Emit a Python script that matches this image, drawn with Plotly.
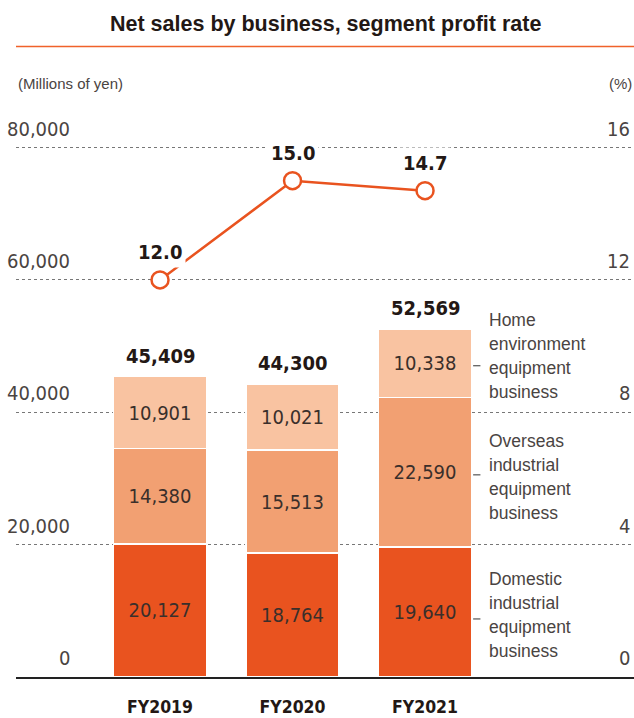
import plotly.graph_objects as go

# ---------------- data ----------------
years = ["FY2019", "FY2020", "FY2021"]
domestic = [20127, 18764, 19640]
overseas = [14380, 15513, 22590]
home = [10901, 10021, 10338]
totals = [45409, 44300, 52569]
profit_rate = [12.0, 15.0, 14.7]
left_ticks = [0, 20000, 40000, 60000, 80000]
left_tick_labels = ["0", "20,000", "40,000", "60,000", "80,000"]
right_ticks = [0, 4, 8, 12, 16]
right_tick_labels = ["0", "4", "8", "12", "16"]
segment_names = [["Home", "environment", "equipment", "business"],
                 ["Overseas", "industrial", "equipment", "business"],
                 ["Domestic", "industrial", "equipment", "business"]]

# ---------------- styles ----------------
C_DOM = "#E9531F"
C_OVS = "#F2A072"
C_HOME = "#F9C3A1"
C_LINE = "#E9531F"
DARK = "#231815"
GRAY = "#4a4442"
NARROW = "DejaVu Sans Condensed, Liberation Sans Narrow, sans-serif"
REG = "Liberation Sans, Arial, sans-serif"

W, H = 634, 718
Y_TOP = 81000          # a little headroom so the 80,000 gridline is drawn
Y2_TOP = 16.2
L, R, B = 16, 0, 41
T = 148 - 529 / 80000 * (Y_TOP - 80000)
PW = W - L - R
PH = H - T - B


def px_x(px):
    return (px - L) / PW


def px_y(px):
    return (H - B - px) / PH


fig = go.Figure()

for vals, col, name in [(domestic, C_DOM, "Domestic"), (overseas, C_OVS, "Overseas"), (home, C_HOME, "Home")]:
    fig.add_trace(go.Bar(
        x=years, y=vals, name=name, marker=dict(color=col, line=dict(color="white", width=1.5)),
        width=0.70, text=[f"{v:,}" for v in vals], textposition="inside",
        insidetextanchor="middle", textangle=0,
        textfont=dict(family=NARROW, size=20, color="#3a2f2b"),
        hoverinfo="skip", showlegend=False,
    ))

fig.add_trace(go.Scatter(
    x=years, y=profit_rate, yaxis="y2", mode="lines+markers",
    line=dict(color=C_LINE, width=2.5),
    marker=dict(symbol="circle", size=17, color="white", line=dict(color=C_LINE, width=2.5)),
    showlegend=False, hoverinfo="skip", cliponaxis=False,
))

ann = []
# totals above bars
for yr, t in zip(years, totals):
    ann.append(dict(x=yr, y=t, xref="x", yref="y", text=f"<b>{t:,}</b>", showarrow=False,
                    yanchor="bottom", yshift=7, font=dict(family=NARROW, size=20, color=DARK)))
# profit rate labels
for yr, r in zip(years, profit_rate):
    ann.append(dict(x=yr, y=r, xref="x", yref="y2", text=f"<b>{r:.1f}</b>", showarrow=False,
                    yanchor="bottom", yshift=12, bgcolor="white", borderpad=3,
                    font=dict(family=NARROW, size=20, color=DARK)))
# left tick labels
for v, lab in zip(left_ticks, left_tick_labels):
    ann.append(dict(x=px_x(72), y=v, xref="paper", yref="y", text=lab, showarrow=False,
                    xanchor="right", yanchor="bottom", yshift=5,
                    font=dict(family=NARROW, size=20, color=GRAY)))
# right tick labels
for v, lab in zip(right_ticks, right_tick_labels):
    ann.append(dict(x=px_x(632), y=v, xref="paper", yref="y2", text=lab, showarrow=False,
                    xanchor="right", yanchor="bottom", yshift=5,
                    font=dict(family=NARROW, size=20, color=GRAY)))
# unit labels
ann.append(dict(x=0, y=px_y(84), xref="paper", yref="paper", text="(Millions of yen)", showarrow=False,
                xanchor="left", yanchor="middle", font=dict(family=REG, size=15, color=GRAY)))
ann.append(dict(x=1, y=px_y(84), xref="paper", yref="paper", text="(%)", showarrow=False,
                xanchor="right", yanchor="middle", font=dict(family=REG, size=15, color=GRAY)))
# title
ann.append(dict(x=px_x(325), y=px_y(24), xref="paper", yref="paper",
                text="<b>Net sales by business, segment profit rate</b>", showarrow=False,
                xanchor="center", yanchor="middle", font=dict(family=REG, size=21.5, color=DARK)))
# segment legends (one annotation per line for 24px line spacing)
legend_y = [48545, 30170, 9376]
for lines, ly in zip(segment_names, legend_y):
    n = len(lines)
    for i, line in enumerate(lines):
        ann.append(dict(x=2.47, y=ly, xref="x", yref="y", text=line, showarrow=False, align="left",
                        xanchor="left", yanchor="middle", yshift=(n - 1) / 2 * 24 - i * 24,
                        font=dict(family=REG, size=17.5, color=GRAY)))

shapes = [
    dict(type="line", xref="paper", yref="paper", x0=0, x1=1, y0=px_y(47), y1=px_y(47),
         line=dict(color="#F0622A", width=1.5)),
]
dash_y = [47032, 30548, 8771]
for dy in dash_y:
    shapes.append(dict(type="line", xref="x", yref="y", x0=2.363, x1=2.418, y0=dy, y1=dy,
                       line=dict(color="#333333", width=1)))

fig.update_layout(
    width=W, height=H, margin=dict(l=L, r=R, t=T, b=B),
    paper_bgcolor="white", plot_bgcolor="white",
    barmode="stack", bargap=0.3,
    annotations=ann, shapes=shapes,
    xaxis=dict(range=[-1.087, 3.577], showgrid=False, showline=True, linecolor="#222222", linewidth=1.5,
               ticks="", tickfont=dict(family=NARROW, size=17.5, color=DARK),
               tickvals=years, ticktext=[f"<b>{y}</b>" for y in years], ticklabelstandoff=13,
               zeroline=False, fixedrange=True),
    yaxis=dict(range=[0, Y_TOP], tickvals=left_ticks, showticklabels=False, showgrid=True,
               gridcolor="#777777", gridwidth=1, griddash="dot", zeroline=False, ticks=""),
    yaxis2=dict(range=[0, Y2_TOP], overlaying="y", side="right", showgrid=False, showticklabels=False,
                zeroline=False, ticks=""),
)

fig.write_html("out.html")
